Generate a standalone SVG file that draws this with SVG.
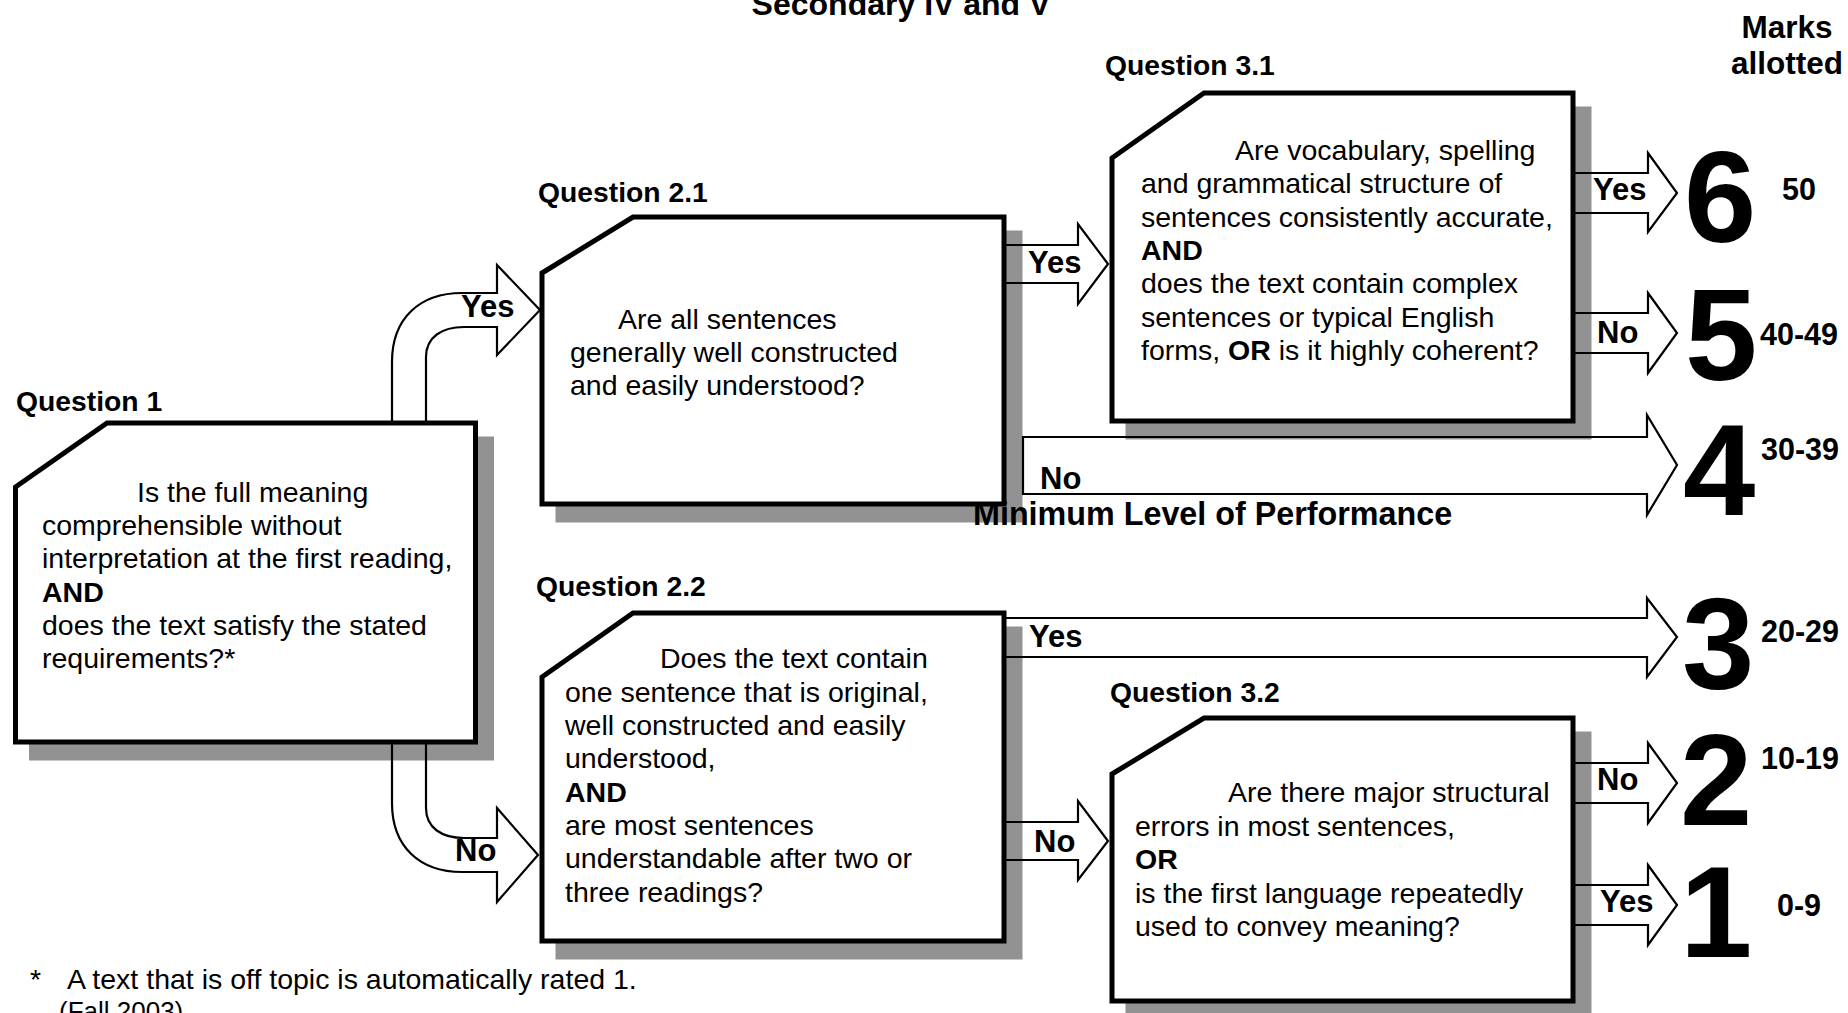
<svg xmlns="http://www.w3.org/2000/svg" xmlns:xlink="http://www.w3.org/1999/xlink" width="1848" height="1013" viewBox="0 0 1848 1013">
<style>
text{font-family:"Liberation Sans",Arial,sans-serif;fill:#000}
.body{font-size:28.5px}
.b{font-weight:bold}
.qlab{font-size:28.3px;font-weight:bold}
.alab{font-size:31px;font-weight:bold}
.big{font-size:130px;font-weight:bold}
.mark{font-size:30.5px;font-weight:bold}
.head{font-size:31.5px;font-weight:bold}
.shadow{fill:#929292;stroke:#929292;stroke-width:5}
.box{fill:#fff;stroke:#000;stroke-width:5;stroke-linejoin:miter}
.arr{fill:none;stroke:#000;stroke-width:2.2;stroke-linejoin:miter}
</style>
<defs>
<path id="s-q1" d="M107 423 L475.5 423 L475.5 742 L15.5 742 L15.5 487 Z"/>
<path id="s-q21" d="M633 217 L1004 217 L1004 504 L542 504 L542 273 Z"/>
<path id="s-q22" d="M633 613 L1004 613 L1004 941 L542 941 L542 677 Z"/>
<path id="s-q31" d="M1204 93 L1573 93 L1573 421 L1112 421 L1112 158 Z"/>
<path id="s-q32" d="M1204 718 L1573 718 L1573 1001 L1112 1001 L1112 774 Z"/>
</defs>
<rect width="1848" height="1013" fill="#fff"/>

<g id="title">
<text class="head" x="901" y="15" text-anchor="middle" style="font-size:32px">Secondary IV and V</text>
<text class="head" x="1787" y="38" text-anchor="middle">Marks</text>
<text class="head" x="1787" y="74" text-anchor="middle">allotted</text>
</g>

<g id="q1">
<use xlink:href="#s-q1" class="shadow" transform="translate(16,16)"/>
<use xlink:href="#s-q1" class="box"/>
<text class="qlab" x="16" y="411">Question 1</text>
<text class="body"><tspan x="137" y="502">Is the full meaning</tspan><tspan x="42" y="535">comprehensible without</tspan><tspan x="42" y="568">interpretation at the first reading,</tspan><tspan x="42" y="602" class="b">AND</tspan><tspan x="42" y="635">does the text satisfy the stated</tspan><tspan x="42" y="668">requirements?*</tspan></text>
</g>

<g id="q21">
<use xlink:href="#s-q21" class="shadow" transform="translate(16,16)"/>
<use xlink:href="#s-q21" class="box"/>
<text class="qlab" x="538" y="202">Question 2.1</text>
<text class="body"><tspan x="618" y="329">Are all sentences</tspan><tspan x="570" y="362">generally well constructed</tspan><tspan x="570" y="395">and easily understood?</tspan></text>
</g>

<g id="q22">
<use xlink:href="#s-q22" class="shadow" transform="translate(16,16)"/>
<use xlink:href="#s-q22" class="box"/>
<text class="qlab" x="536" y="596">Question 2.2</text>
<text class="body"><tspan x="660" y="668">Does the text contain</tspan><tspan x="565" y="702">one sentence that is original,</tspan><tspan x="565" y="735">well constructed and easily</tspan><tspan x="565" y="768">understood,</tspan><tspan x="565" y="802" class="b">AND</tspan><tspan x="565" y="835">are most sentences</tspan><tspan x="565" y="868">understandable after two or</tspan><tspan x="565" y="902">three readings?</tspan></text>
</g>

<g id="q31">
<use xlink:href="#s-q31" class="shadow" transform="translate(16,16)"/>
<use xlink:href="#s-q31" class="box"/>
<text class="qlab" x="1105" y="75">Question 3.1</text>
<text class="body"><tspan x="1235" y="160">Are vocabulary, spelling</tspan><tspan x="1141" y="193">and grammatical structure of</tspan><tspan x="1141" y="227">sentences consistently accurate,</tspan><tspan x="1141" y="260" class="b">AND</tspan><tspan x="1141" y="293">does the text contain complex</tspan><tspan x="1141" y="327">sentences or typical English</tspan><tspan x="1141" y="360">forms, <tspan class="b">OR</tspan> is it highly coherent?</tspan></text>
</g>

<g id="q32">
<use xlink:href="#s-q32" class="shadow" transform="translate(16,16)"/>
<use xlink:href="#s-q32" class="box"/>
<text class="qlab" x="1110" y="702">Question 3.2</text>
<text class="body"><tspan x="1228" y="802">Are there major structural</tspan><tspan x="1135" y="836">errors in most sentences,</tspan><tspan x="1135" y="869" class="b">OR</tspan><tspan x="1135" y="903">is the first language repeatedly</tspan><tspan x="1135" y="936">used to convey meaning?</tspan></text>
</g>

<g id="connectors">
<path class="arr" d="M392 423 L392 362 C392 318 420 293 462 293 L497 293 L497 265 L540 310 L497 355 L497 327 L464 327 C442 327 426 337 426 357 L426 423"/>
<path class="arr" d="M392 742 L392 803 C392 847 420 872 462 872 L497 872 L497 902 L538 855 L497 808 L497 838 L464 838 C442 838 426 828 426 808 L426 742"/>
<path class="arr" d="M1004 245 L1078 245 L1078 224 L1108 264 L1078 304 L1078 283 L1004 283"/>
<path class="arr" d="M1023 437 L1647 437 L1647 415 L1677 465 L1647 515 L1647 494 L1023 494 Z"/>
<path class="arr" d="M1004 618 L1647 618 L1647 598 L1677 637 L1647 677 L1647 657 L1004 657"/>
<path class="arr" d="M1004 822 L1078 822 L1078 801 L1108 841 L1078 880 L1078 860 L1004 860"/>
<path class="arr" d="M1573 173 L1648 173 L1648 153 L1677 193 L1648 232 L1648 213 L1573 213"/>
<path class="arr" d="M1573 313 L1648 313 L1648 293 L1677 333 L1648 373 L1648 353 L1573 353"/>
<path class="arr" d="M1573 763 L1648 763 L1648 743 L1677 783 L1648 823 L1648 803 L1573 803"/>
<path class="arr" d="M1573 885 L1648 885 L1648 865 L1677 905 L1648 945 L1648 925 L1573 925"/>
<text class="alab" x="461" y="317">Yes</text>
<text class="alab" x="455" y="861">No</text>
<text class="alab" x="1028" y="273">Yes</text>
<text class="alab" x="1040" y="489">No</text>
<text class="alab" x="1029" y="647">Yes</text>
<text class="alab" x="1034" y="852">No</text>
<text class="alab" x="1593" y="200">Yes</text>
<text class="alab" x="1597" y="343">No</text>
<text class="alab" x="1597" y="790">No</text>
<text class="alab" x="1600" y="912">Yes</text>
<text class="head" x="973" y="525" style="font-size:32.3px">Minimum Level of Performance</text>
</g>

<g id="scores">
<text class="big" x="1684" y="242">6</text>
<text class="big" x="1685" y="380">5</text>
<text class="big" x="1683" y="515">4</text>
<text class="big" x="1682" y="689">3</text>
<text class="big" x="1680" y="825">2</text>
<text class="big" x="1680" y="957">1</text>
<text class="mark" x="1782" y="200">50</text>
<text class="mark" x="1760" y="345">40-49</text>
<text class="mark" x="1761" y="460">30-39</text>
<text class="mark" x="1761" y="642">20-29</text>
<text class="mark" x="1761" y="769">10-19</text>
<text class="mark" x="1777" y="916">0-9</text>
</g>

<g id="footnote">
<text class="body" x="30" y="989">*</text>
<text class="body" x="67" y="989">A text that is off topic is automatically rated 1.</text>
<text class="body" x="59" y="1020" style="font-size:26px">(Fall 2003)</text>
</g>
</svg>
